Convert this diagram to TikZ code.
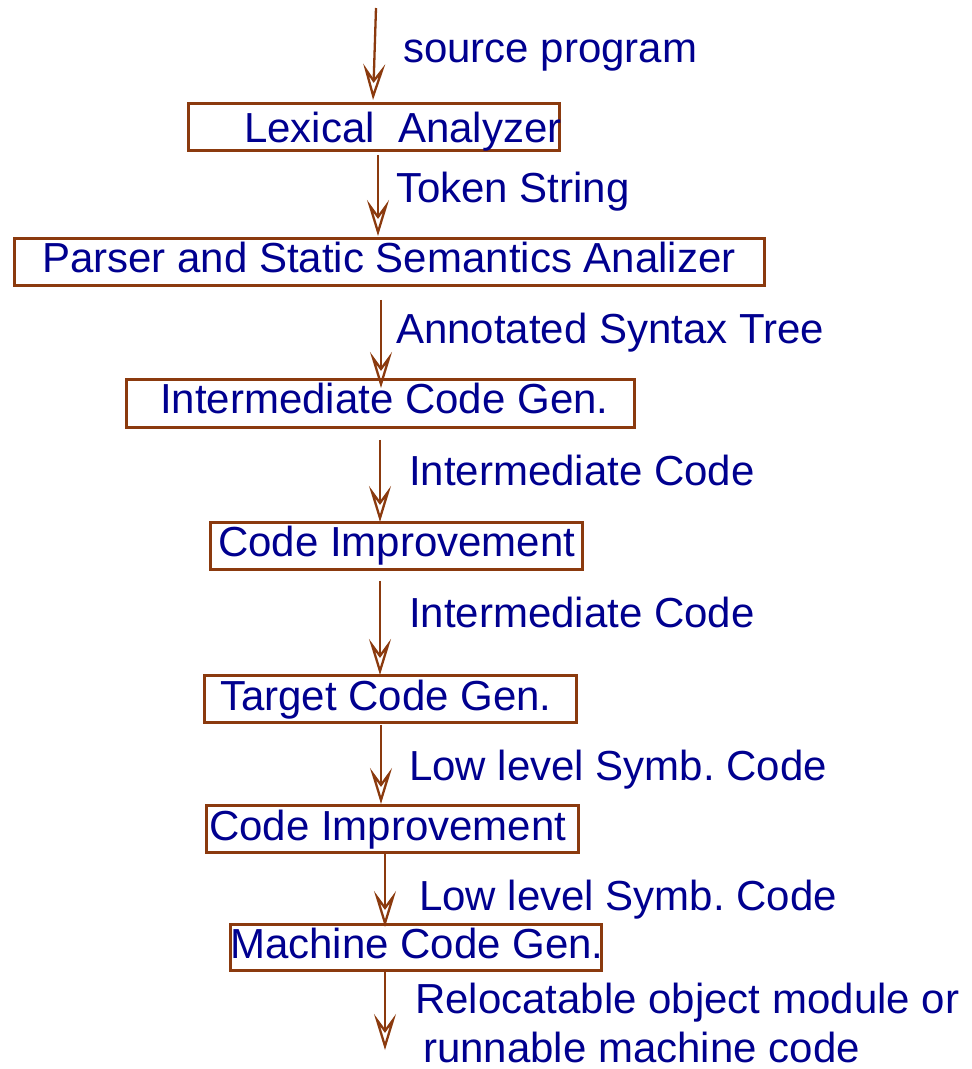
\documentclass[tikz,border=0pt]{standalone}
\usepackage{fontspec}
\setmainfont{Liberation Sans}
\usetikzlibrary{arrows.meta}
\definecolor{boxbrown}{HTML}{8B3A0E}
\definecolor{txtblue}{HTML}{00008F}
\frenchspacing
\begin{document}
\begin{tikzpicture}[x=1pt,y=-1pt,
  box/.style={draw=boxbrown,line width=2.8pt,inner sep=0pt,anchor=north west},
  txt/.style={text=txtblue,inner sep=0pt,anchor=base west,font=\fontsize{42}{48}\selectfont\frenchspacing},
  arr/.style={draw=boxbrown,line width=2.3pt,-{Stealth[open,length=36pt,width=22pt,inset=15pt,line width=2.3pt]}}]
\useasboundingbox (0,0) rectangle (972,1069);
% boxes
\node[box,minimum width=371pt,minimum height=47pt] (lex) at (187,102) {};
\node[box,minimum width=750pt,minimum height=47pt] (parser) at (13,237) {};
\node[box,minimum width=508pt,minimum height=48pt] (icg) at (125,378) {};
\node[box,minimum width=372pt,minimum height=47pt] (ci1) at (209,521) {};
\node[box,minimum width=372pt,minimum height=47pt] (tcg) at (203,674) {};
\node[box,minimum width=372pt,minimum height=47pt] (ci2) at (205,804) {};
\node[box,minimum width=371pt,minimum height=46pt] (mcg) at (229,923) {};
% box texts
\node[txt] (lext) at (244,142) {Lexical\ \ Analyzer};
\node[txt] (parsert) at (42,272) {Parser and Static Semantics Analizer};
\node[txt] (icgt) at (160,413) {Intermediate Code Gen.};
\node[txt] (ci1t) at (218,556) {Code Improvement};
\node[txt] (tcgt) at (220,710) {Target Code Gen.};
\node[txt] (ci2t) at (209,840) {Code Improvement};
\node[txt] (mcgt) at (230,958) {Machine Code Gen.};
% labels
\node[txt] (l0) at (403,62) {source program};
\node[txt] (l1) at (396,202) {Token String};
\node[txt] (l2) at (396,343) {Annotated Syntax Tree};
\node[txt] (l3) at (409,485) {Intermediate Code};
\node[txt] (l4) at (409,627) {Intermediate Code};
\node[txt] (l5) at (409,780) {Low level Symb. Code};
\node[txt] (l6) at (419,910) {Low level Symb. Code};
\node[txt] (l7) at (415,1013) {Relocatable object module or};
\node[txt] (l8) at (423,1062) {runnable machine code};
% x positions of connectors
\coordinate (x0) at (373,0);
\coordinate (x1) at (378,0);
\coordinate (x2) at (381,0);
\coordinate (x3) at (380,0);
\coordinate (x4) at (380,0);
\coordinate (x5) at (381,0);
\coordinate (x6) at (385,0);
\coordinate (src) at (376,8);
\coordinate (out) at (385,1050);
% connectors
\draw[arr,shorten >=2pt] (src) -- (lex.north -| x0);
\draw[arr,shorten <=3pt,shorten >=1pt] (lex.south -| x1) -- (parser.north -| x1);
\draw[arr,shorten <=13pt,shorten >=-10pt] (parser.south -| x2) -- (icg.north -| x2);
\draw[arr,shorten <=11pt,shorten >=-1pt] (icg.south -| x3) -- (ci1.north -| x3);
\draw[arr,shorten <=10pt,shorten >=-1pt] (ci1.south -| x4) -- (tcg.north -| x4);
\draw[arr,shorten <=1pt] (tcg.south -| x5) -- (ci2.north -| x5);
\draw[arr,shorten >=-4pt] (ci2.south -| x6) -- (mcg.north -| x6);
\draw[arr] (mcg.south -| x6) -- (out);
\end{tikzpicture}
\end{document}
